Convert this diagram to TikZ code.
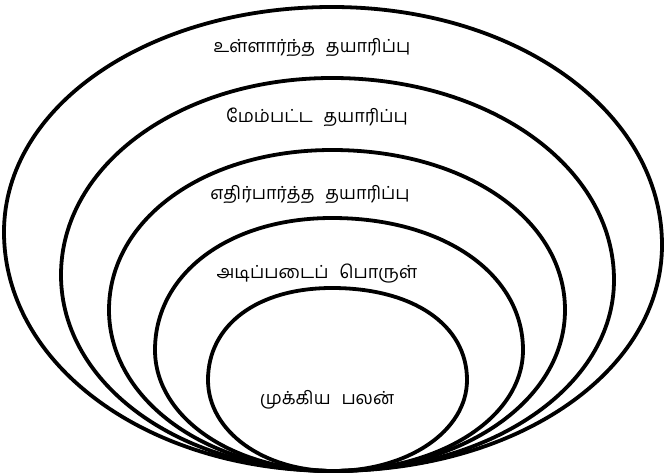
\documentclass[tikz,border=0pt]{standalone}
\usepackage{fontspec}
\newfontfamily\tamilfont[Script=Tamil]{Hind Madurai}
\tikzset{
  ring/.style={line width=3.8pt, black},
  lbl/.style={font=\tamilfont\fontsize{18}{21}\selectfont, inner sep=0pt, anchor=center}
}
% egg: #1 top y, #2 left x, #3 left y, #4 right x, #5 right y, #6 top kappa
\newcommand\eggring[6]{%
  \draw[ring] (333,471)
    .. controls ({333-0.56*(333-#2)},471) and (#2,{#3+0.56*(471-#3)}) .. (#2,#3)
    .. controls (#2,{#3-#6*(#3-#1)}) and ({332-#6*(332-#2)},#1) .. (332,#1)
    .. controls ({332+#6*(#4-332)},#1) and (#4,{#5-#6*(#5-#1)}) .. (#4,#5)
    .. controls (#4,{#5+0.56*(471-#5)}) and ({333+0.56*(#4-333)},471) .. cycle;}
\begin{document}
\begin{tikzpicture}[x=1pt,y=-1pt]
\useasboundingbox[fill=white] (0,0) rectangle (665,476);
\eggring{7}{4}{232}{662}{245}{0.56}
\eggring{78}{61}{275}{614}{280}{0.56}
\eggring{150}{109}{310}{565}{310}{0.57}
\eggring{218}{155}{350}{523}{350}{0.58}
\eggring{288}{208}{380}{467}{380}{0.6}
\node[lbl] (l1) at (312,48) {உள்ளார்ந்த\hspace{0.6em}தயாரிப்பு};
\node[lbl] (l2) at (317,117) {மேம்பட்ட\hspace{0.6em}தயாரிப்பு};
\node[lbl] (l3) at (310,195) {எதிர்பார்த்த\hspace{0.6em}தயாரிப்பு};
\node[lbl] (l4) at (317,274) {அடிப்படைப்\hspace{0.6em}பொருள்};
\node[lbl] (l5) at (327,400) {முக்கிய\hspace{0.6em}பலன்};
\end{tikzpicture}
\end{document}
